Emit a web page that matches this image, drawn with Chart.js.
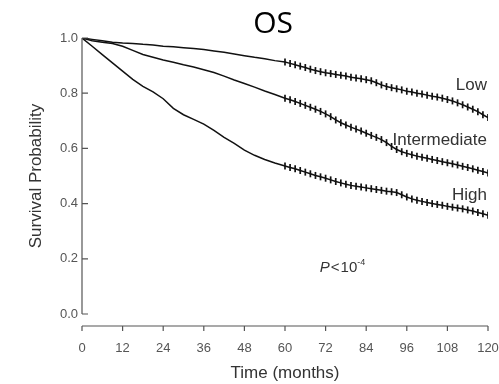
<!DOCTYPE html>
<html>
<head>
<meta charset="utf-8">
<script src="https://cdn.jsdelivr.net/npm/chart.js@4.4.1/dist/chart.umd.min.js"></script>
<style>
html, body { margin: 0; padding: 0; background: #fff; }
#wrap { width: 499px; height: 384px; position: relative; }
</style>
</head>
<body>
<div id="wrap"><canvas id="osChart"></canvas></div>
<script>
// time points (months)
const months = [0, 3, 6, 9, 12, 15, 18, 21, 24, 27, 30, 33, 36, 39, 42, 45, 48, 51, 54, 57,
  60, 61.5, 63, 64.5, 66, 67.5, 69, 70.5, 72, 73.5, 75, 76.5, 78, 79.5, 81, 82.5, 84, 85.5, 87, 88.5,
  90, 91.5, 93, 94.5, 96, 97.5, 99, 100.5, 102, 103.5, 105, 106.5, 108, 109.5, 111, 112.5, 114, 115.5, 117, 118.5, 120];

const lowRisk = [1.0, 0.995, 0.99, 0.985, 0.982, 0.98, 0.977, 0.975, 0.97, 0.968, 0.965, 0.962, 0.958, 0.953, 0.948, 0.942, 0.936, 0.93, 0.925, 0.918,
  0.913, 0.908, 0.903, 0.898, 0.893, 0.887, 0.882, 0.878, 0.874, 0.871, 0.868, 0.865, 0.862, 0.858, 0.855, 0.852, 0.849, 0.845, 0.838, 0.83,
  0.824, 0.82, 0.816, 0.812, 0.807, 0.804, 0.8, 0.797, 0.793, 0.789, 0.786, 0.782, 0.777, 0.772, 0.765, 0.758, 0.75, 0.742, 0.733, 0.722, 0.712];

const intermediateRisk = [1.0, 0.99, 0.985, 0.98, 0.97, 0.955, 0.94, 0.93, 0.92, 0.912, 0.903, 0.895, 0.885, 0.875, 0.862, 0.848, 0.835, 0.822, 0.808, 0.795,
  0.782, 0.776, 0.77, 0.763, 0.756, 0.749, 0.742, 0.734, 0.725, 0.715, 0.703, 0.693, 0.685, 0.677, 0.67, 0.663, 0.655, 0.647, 0.64, 0.632,
  0.621, 0.607, 0.596, 0.588, 0.582, 0.577, 0.572, 0.568, 0.564, 0.56, 0.556, 0.552, 0.548, 0.544, 0.54, 0.535, 0.531, 0.526, 0.521, 0.516, 0.511];

const highRisk = [1.0, 0.97, 0.94, 0.91, 0.88, 0.85, 0.825, 0.805, 0.78, 0.745, 0.722, 0.705, 0.688, 0.665, 0.64, 0.618, 0.594, 0.575, 0.56, 0.547,
  0.536, 0.531, 0.526, 0.52, 0.514, 0.508, 0.502, 0.497, 0.492, 0.486, 0.48, 0.475, 0.47, 0.466, 0.463, 0.46, 0.457, 0.454, 0.451, 0.448,
  0.445, 0.443, 0.44, 0.432, 0.424, 0.417, 0.412, 0.408, 0.404, 0.4, 0.397, 0.394, 0.39, 0.387, 0.384, 0.381, 0.377, 0.373, 0.368, 0.363, 0.358];

const groupNames = ['Low', 'Intermediate', 'High'];
const xTicks = [0, 12, 24, 36, 48, 60, 72, 84, 96, 108, 120];
const yTicks = [0, 0.2, 0.4, 0.6, 0.8, 1.0];
const censorStart = 60; // censoring marks drawn from here on

// where the group names sit (data units)
const nameAnchorX = 119.7;
const nameAnchorY = [0.83, 0.63, 0.43];

const ink = '#111';
const axisGray = '#555';

function toPoints(vals) {
  return months.map((m, i) => ({ x: m, y: vals[i] }));
}

function curve(label, vals) {
  return {
    label: label,
    data: toPoints(vals),
    borderColor: ink,
    borderWidth: 1.5,
    tension: 0,
    pointStyle: 'line',
    rotation: 90,
    pointBorderColor: ink,
    pointBorderWidth: 1.7,
    pointRadius: ctx => (ctx.raw && ctx.raw.x >= censorStart ? 3.5 : 0)
  };
}

const axesAndText = {
  id: 'axesAndText',
  afterDraw(chart) {
    const ctx = chart.ctx;
    const xs = chart.scales.x;
    const ys = chart.scales.y;
    const area = chart.chartArea;
    ctx.save();
    ctx.strokeStyle = axisGray;
    ctx.lineWidth = 1.2;
    ctx.beginPath();
    // y axis, ticks pointing inwards
    ctx.moveTo(area.left, ys.getPixelForValue(1));
    ctx.lineTo(area.left, ys.getPixelForValue(0));
    yTicks.forEach(v => {
      const py = ys.getPixelForValue(v);
      ctx.moveTo(area.left, py);
      ctx.lineTo(area.left + 6, py);
    });
    // x axis, offset below the plot
    const ay = area.bottom + 12;
    ctx.moveTo(xs.getPixelForValue(0), ay);
    ctx.lineTo(xs.getPixelForValue(120), ay);
    xTicks.forEach(v => {
      const px = xs.getPixelForValue(v);
      ctx.moveTo(px, ay);
      ctx.lineTo(px, ay + 5);
    });
    ctx.stroke();

    // group names
    ctx.fillStyle = '#333';
    ctx.font = '17px "Liberation Sans", Arial, sans-serif';
    ctx.textAlign = 'right';
    ctx.textBaseline = 'middle';
    groupNames.forEach((n, i) => {
      ctx.fillText(n, xs.getPixelForValue(nameAnchorX), ys.getPixelForValue(nameAnchorY[i]));
    });

    // P value
    let px = xs.getPixelForValue(70.3);
    const py = ys.getPixelForValue(0.167);
    ctx.textAlign = 'left';
    ctx.font = 'italic 15px "Liberation Sans", Arial, sans-serif';
    ctx.fillText('P', px, py);
    px += ctx.measureText('P').width + 1;
    ctx.font = '15px "Liberation Sans", Arial, sans-serif';
    ctx.fillText('<', px, py);
    px += ctx.measureText('<').width + 1;
    ctx.fillText('10', px, py);
    px += ctx.measureText('10').width;
    ctx.font = '9px "Liberation Sans", Arial, sans-serif';
    ctx.fillText('-4', px, py - 5);

    // title
    ctx.fillStyle = '#000';
    ctx.font = '30px "Open Sans", "Noto Sans", sans-serif';
    ctx.textAlign = 'center';
    ctx.fillText('OS', xs.getPixelForValue(56.5), area.top - 14);
    ctx.restore();
  }
};

new Chart(document.getElementById('osChart'), {
  type: 'line',
  data: {
    datasets: [
      curve(groupNames[0], lowRisk),
      curve(groupNames[1], intermediateRisk),
      curve(groupNames[2], highRisk)
    ]
  },
  options: {
    responsive: true,
    maintainAspectRatio: false,
    animation: false,
    events: [],
    layout: { padding: { top: 38, right: 11, left: 0, bottom: 0 } },
    plugins: { legend: { display: false }, tooltip: { enabled: false } },
    scales: {
      x: {
        type: 'linear',
        min: 0,
        max: 120,
        afterFit: s => { s.height = 70; s.paddingLeft = 0; s.paddingRight = 0; },
        grid: { display: false, drawTicks: false },
        border: { display: false },
        ticks: {
          stepSize: 12,
          padding: 27,
          color: axisGray,
          font: { size: 13, family: '"Liberation Sans", Arial, sans-serif' },
          maxRotation: 0
        },
        title: {
          display: true,
          text: 'Time (months)',
          color: '#333',
          font: { size: 17, family: '"Liberation Sans", Arial, sans-serif' },
          padding: { top: 0, bottom: 0 }
        }
      },
      y: {
        min: 0,
        max: 1,
        afterFit: s => { s.width = 82; s.paddingTop = 0; s.paddingBottom = 0; },
        grid: { display: false, drawTicks: false },
        border: { display: false },
        ticks: {
          stepSize: 0.2,
          padding: 4,
          color: axisGray,
          font: { size: 13, family: '"Liberation Sans", Arial, sans-serif' },
          callback: v => v.toFixed(1)
        },
        title: {
          display: true,
          text: 'Survival Probability',
          color: '#333',
          font: { size: 17, family: '"Liberation Sans", Arial, sans-serif' },
          padding: { top: 26, bottom: 0 }
        }
      }
    }
  },
  plugins: [axesAndText]
});
</script>
</body>
</html>
